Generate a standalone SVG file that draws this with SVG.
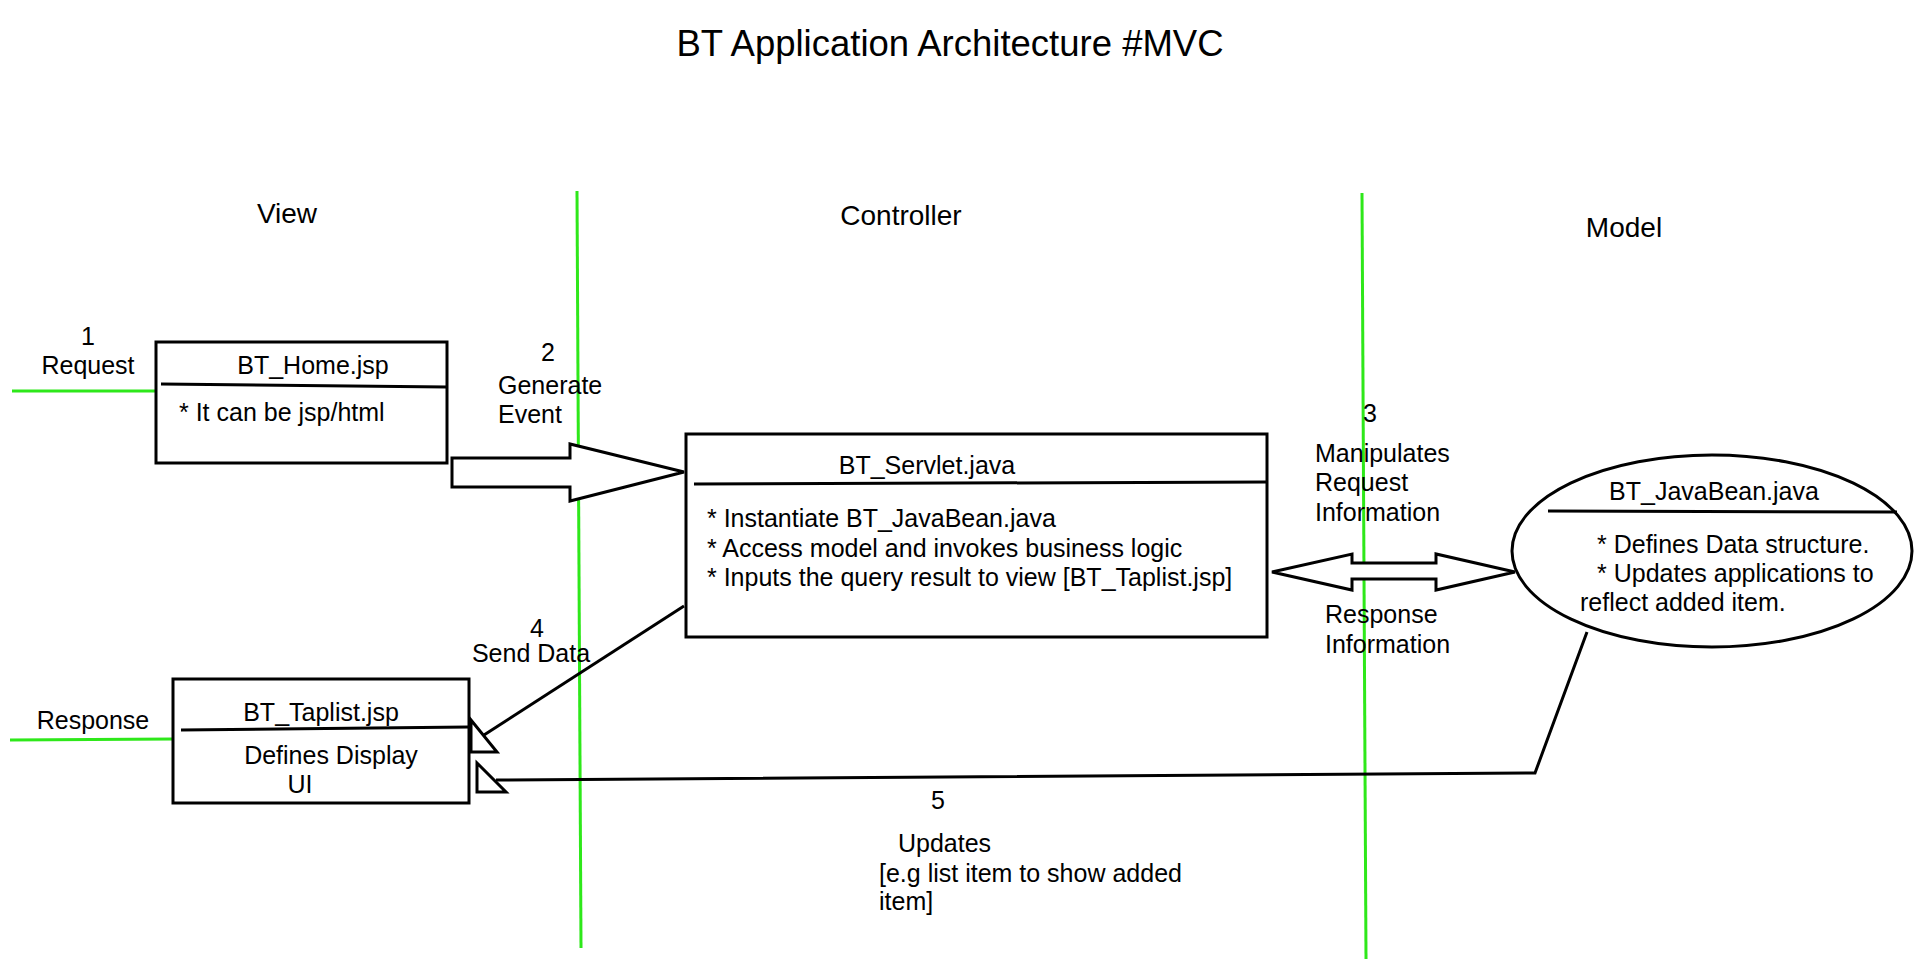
<svg xmlns="http://www.w3.org/2000/svg" width="1922" height="960" viewBox="0 0 1922 960">
<style>
text{font-family:"Liberation Sans",Arial,sans-serif;fill:#000}
.t{font-size:25px}
.h{font-size:28px}
.c{text-anchor:middle}
.box{fill:#fff;stroke:#000;stroke-width:3}
.ln{fill:none;stroke:#000;stroke-width:3}
.g{fill:none;stroke:#2ee81a;stroke-width:3}
.ar{fill:#fff;stroke:#000;stroke-width:3;stroke-linejoin:miter}
</style>
<rect width="1922" height="960" fill="#fff"/>
<text x="950" y="56" class="c" font-size="36.5">BT Application Architecture #MVC</text>
<g id="lanes">
<line class="g" x1="577" y1="191" x2="581" y2="948"/>
<line class="g" x1="1362" y1="193" x2="1366" y2="959"/>
<text x="287" y="223" class="h c">View</text>
<text x="901" y="225" class="h c">Controller</text>
<text x="1624" y="237" class="h c">Model</text>
</g>
<g id="connectors">
<line class="g" x1="12" y1="391" x2="156" y2="391"/>
<line class="g" x1="10" y1="740" x2="173" y2="739"/>
<polygon class="ar" points="452,458 570,458 570,444 684,472 570,501 570,487 452,487"/>
<polygon class="ar" points="1272,572 1352,554 1352,563 1436,563 1436,554 1515,572 1436,590 1436,579 1352,579 1352,590"/>
<line class="ln" x1="684" y1="606" x2="484" y2="735"/>
<polygon class="ar" points="471,720 471,752 497,752"/>
<polyline class="ln" points="1587,632 1535,773 496,780"/>
<polygon class="ar" points="477,763 477,792 506,792"/>
</g>
<g id="labels">
<text x="88" y="345" class="t c">1</text>
<text x="88" y="374" class="t c">Request</text>
<text x="548" y="361" class="t c">2</text>
<text x="498" y="394" class="t">Generate</text>
<text x="498" y="423" class="t">Event</text>
<text x="1370" y="422" class="t c">3</text>
<text x="1315" y="462" class="t">Manipulates</text>
<text x="1315" y="491" class="t">Request</text>
<text x="1315" y="521" class="t">Information</text>
<text x="1325" y="623" class="t">Response</text>
<text x="1325" y="653" class="t">Information</text>
<text x="537" y="637" class="t c">4</text>
<text x="531" y="662" class="t c">Send Data</text>
<text x="93" y="729" class="t c">Response</text>
<text x="938" y="809" class="t c">5</text>
<text x="898" y="852" class="t">Updates</text>
<text x="879" y="882" class="t">[e.g list item to show added</text>
<text x="879" y="910" class="t">item]</text>
</g>
<g id="bt-home">
<rect class="box" x="156" y="342" width="291" height="121"/>
<line class="ln" x1="161" y1="384" x2="447" y2="387"/>
<text x="313" y="374" class="t c">BT_Home.jsp</text>
<text x="179" y="421" class="t">* It can be jsp/html</text>
</g>
<g id="bt-servlet">
<rect class="box" x="686" y="434" width="581" height="203"/>
<line class="ln" x1="694" y1="484" x2="1267" y2="482"/>
<text x="927" y="474" class="t c">BT_Servlet.java</text>
<text x="707" y="527" class="t">* Instantiate BT_JavaBean.java</text>
<text x="707" y="557" class="t">* Access model and invokes business logic</text>
<text x="707" y="586" class="t">* Inputs the query result to view [BT_Taplist.jsp]</text>
</g>
<g id="bt-taplist">
<rect class="box" x="173" y="679" width="296" height="124"/>
<line class="ln" x1="181" y1="730" x2="469" y2="727"/>
<text x="321" y="721" class="t c">BT_Taplist.jsp</text>
<text x="331" y="764" class="t c">Defines Display</text>
<text x="300" y="793" class="t c">UI</text>
</g>
<g id="bt-javabean">
<ellipse class="box" cx="1712" cy="551" rx="200" ry="96"/>
<line class="ln" x1="1548" y1="511" x2="1897" y2="512"/>
<text x="1714" y="500" class="t c">BT_JavaBean.java</text>
<text x="1597" y="553" class="t">* Defines Data structure.</text>
<text x="1597" y="582" class="t">* Updates applications to</text>
<text x="1580" y="611" class="t">reflect added item.</text>
</g>
</svg>
